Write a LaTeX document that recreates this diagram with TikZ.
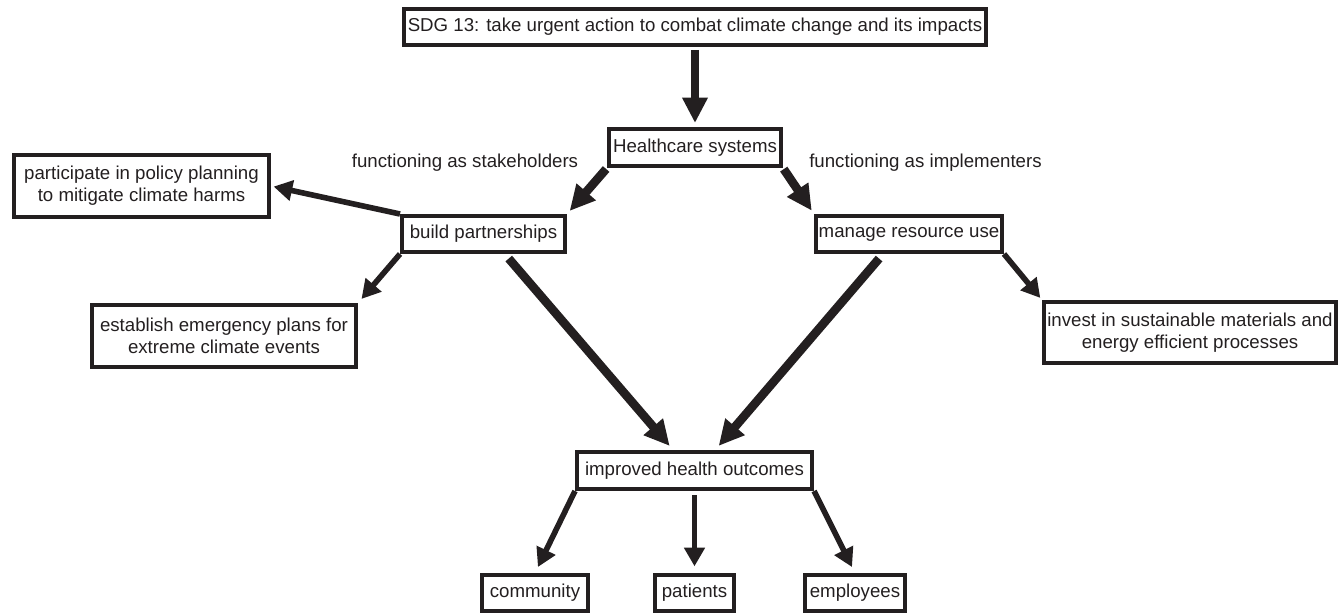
\documentclass[tikz,border=0pt]{standalone}
\usepackage{fontspec}
\setmainfont{Liberation Sans}
\usetikzlibrary{arrows.meta}

\definecolor{ink}{RGB}{35,31,32}

\tikzset{every picture/.style={line width=0.75pt}}
\tikzset{
    box/.style={draw=ink, line width=3pt, text=ink, align=center, inner sep=0pt, minimum height=27pt, font=\fontsize{14}{16.5}\selectfont},
    tallbox/.style={box, minimum height=46.5pt},
    rolelabel/.style={text=ink, inner sep=0pt, font=\fontsize{14}{16.5}\selectfont},
    bigarrow/.style={draw=ink, line width=6.5pt, -{Triangle[length=19pt,width=18pt]}},
    smallarrow/.style={draw=ink, line width=4.2pt, -{Triangle[length=14pt,width=15pt]}}
}

\begin{document}
\begin{tikzpicture}[x=0.75pt,y=0.75pt,yscale=-1,xscale=1]
    \useasboundingbox (0,0) rectangle (1340,613);

    %Shape: Rectangle [id:sdg] 
    \draw (695,27) node [box, minimum width=436.5pt] (sdg) {SDG 13: take urgent action to combat climate change and its impacts};
    %Shape: Rectangle [id:health] 
    \draw (695,147.5) node [box, minimum width=129pt, minimum height=27.75pt] (health) {Healthcare systems};
    %Shape: Rectangle [id:build] 
    \draw (483.5,234) node [box, minimum width=122.25pt] (build) {build partnerships};
    %Shape: Rectangle [id:manage] 
    \draw (909,234) node [box, minimum width=139.5pt] (manage) {manage resource use};
    %Shape: Rectangle [id:part] 
    \draw (141.5,186) node [tallbox, minimum width=191.25pt] (part) {participate in policy planning\\to mitigate climate harms};
    %Shape: Rectangle [id:emerg] 
    \draw (224,336) node [tallbox, minimum width=198pt] (emerg) {establish emergency plans for\\extreme climate events};
    %Shape: Rectangle [id:invest] 
    \draw (1190,332.5) node [tallbox, minimum width=219pt, minimum height=45.75pt] (invest) {invest in sustainable materials and\\energy efficient processes};
    %Shape: Rectangle [id:improved] 
    \draw (694.5,470.5) node [box, minimum width=176.25pt, minimum height=27.75pt] (improved) {improved health outcomes};
    %Shape: Rectangle [id:community] 
    \draw (535,593) node [box, minimum width=79.5pt] (community) {community};
    %Shape: Rectangle [id:patients] 
    \draw (694.5,593) node [box, minimum width=59.25pt] (patients) {patients};
    %Shape: Rectangle [id:employees] 
    \draw (855,593) node [box, minimum width=75pt] (employees) {employees};

    % Text Node
    \draw (465,163) node [rolelabel] (stake) {functioning as stakeholders};
    % Text Node
    \draw (925.5,163) node [rolelabel] (impl) {functioning as implementers};

    %Straight Lines [id:sdg-health] 
    \draw [bigarrow, shorten <=2.25pt, shorten >=3pt] (sdg) -- (health);
    %Straight Lines [id:health-build] 
    \draw [bigarrow, shorten <=1pt, shorten >=3pt] (health.south west) -- (build.north east);
    %Straight Lines [id:health-manage] 
    \draw [bigarrow, shorten <=1pt, shorten >=3pt] (health.south east) -- (manage.north west);
    %Straight Lines [id:build-improved] 
    \draw [bigarrow, shorten <=4.5pt, shorten >=4pt] ([xshift=16pt]build.south) -- ([xshift=-16pt]improved.north);
    %Straight Lines [id:manage-improved] 
    \draw [bigarrow, shorten <=4.5pt, shorten >=4pt] ([xshift=-19.5pt]manage.south) -- ([xshift=15.5pt]improved.north);
    %Straight Lines [id:build-part] 
    \draw [smallarrow, shorten >=2pt] (build.north west) -- (part.east);
    %Straight Lines [id:build-emerg] 
    \draw [smallarrow, shorten >=4pt] (build.south west) -- (emerg.north east);
    %Straight Lines [id:manage-invest] 
    \draw [smallarrow, shorten >=2pt] (manage.south east) -- (invest.north west);
    %Straight Lines [id:improved-community] 
    \draw [smallarrow, shorten >=5pt] (improved.south west) -- (community.north);
    %Straight Lines [id:improved-patients] 
    \draw [smallarrow, shorten <=3pt, shorten >=5pt] (improved.south) -- (patients.north);
    %Straight Lines [id:improved-employees] 
    \draw [smallarrow, shorten >=5pt] (improved.south east) -- (employees.north);

\end{tikzpicture}
\end{document}
